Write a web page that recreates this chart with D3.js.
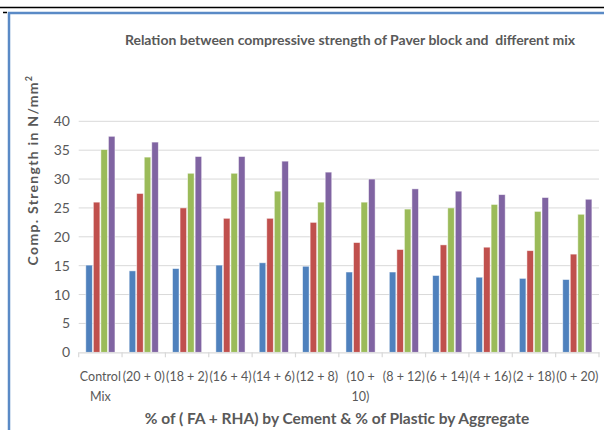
<!DOCTYPE html>
<html>
<head>
<meta charset="utf-8">
<script src="https://cdn.jsdelivr.net/npm/d3@7"></script>
<style>
  html, body { margin: 0; padding: 0; background: #fff; }
  svg { display: block; }
  text { font-family: Lato, "Open Sans", sans-serif; }
</style>
</head>
<body>
<svg id="chart" width="604" height="430"></svg>
<script>
const categories = ["Control Mix", "(20 + 0)", "(18 + 2)", "(16 + 4)", "(14 + 6)", "(12 + 8)", "(10 + 10)", "(8 + 12)", "(6 + 14)", "(4 + 16)", "(2 + 18)", "(0 + 20)"];
const categoryLines = [["Control", "Mix"], ["(20 + 0)"], ["(18 + 2)"], ["(16 + 4)"], ["(14 + 6)"], ["(12 + 8)"], ["(10 +", "10)"], ["(8 + 12)"], ["(6 + 14)"], ["(4 + 16)"], ["(2 + 18)"], ["(0 + 20)"]];
const seriesNames = ["Series 1", "Series 2", "Series 3", "Series 4"];
const series1 = [15.1, 14.1, 14.5, 15.1, 15.5, 14.9, 13.9, 13.9, 13.3, 13.0, 12.8, 12.6];
const series2 = [26.0, 27.5, 25.0, 23.2, 23.2, 22.5, 19.0, 17.8, 18.6, 18.2, 17.6, 17.0];
const series3 = [35.1, 33.8, 31.0, 31.0, 27.9, 26.0, 26.0, 24.8, 25.0, 25.6, 24.4, 23.9];
const series4 = [37.4, 36.4, 33.9, 33.9, 33.1, 31.2, 30.0, 28.3, 27.9, 27.3, 26.8, 26.5];
const yTicks = [0, 5, 10, 15, 20, 25, 30, 35, 40];
const colors = ["#4f81bd", "#c0504d", "#9bbb59", "#8064a2"];

(function () {
const allSeries = [series1, series2, series3, series4];
const svg = d3.select("#chart");

// page decoration: black rule and blue frame
svg.append("line").attr("x1", 0).attr("x2", 604).attr("y1", 7.5).attr("y2", 7.5)
  .attr("stroke", "#000").attr("stroke-width", 1.5);
svg.append("line").attr("x1", 3).attr("x2", 7).attr("y1", 12.5).attr("y2", 12.5)
  .attr("stroke", "#000").attr("stroke-width", 1.5);
svg.append("path").attr("d", "M9,430 V13 H604")
  .attr("fill", "none").attr("stroke", "#5a8ac6").attr("stroke-width", 2.5);

const pl = 78.7, pr = 599, pt = 121.3, pb = 352.3;

const x = d3.scaleBand().domain(categories).range([pl, pr]).paddingInner(0).paddingOuter(0);
const groupPad = 6.6;
const inner = d3.scaleBand().domain(seriesNames).range([groupPad, x.bandwidth() - groupPad]);
const y = d3.scaleLinear().domain([0, 40]).range([pb, pt]);

// gridlines
svg.append("g").selectAll("line").data(yTicks.filter(d => d > 0)).join("line")
  .attr("x1", pl).attr("x2", pr)
  .attr("y1", d => y(d)).attr("y2", d => y(d))
  .attr("stroke", "#d9d9d9").attr("stroke-width", 1);

// y tick labels
svg.append("g").selectAll("text").data(yTicks).join("text")
  .attr("x", 70).attr("y", d => y(d)).attr("dy", "0.36em")
  .attr("text-anchor", "end").attr("fill", "#595959")
  .attr("font-size", 14).text(d => d);

// bars
const groups = svg.append("g").selectAll("g").data(categories).join("g")
  .attr("transform", d => `translate(${x(d)},0)`);
groups.selectAll("rect").data((d, i) => allSeries.map((s, k) => ({ k, v: s[i] }))).join("rect")
  .attr("x", d => inner(seriesNames[d.k]) + 0.5)
  .attr("width", inner.bandwidth() - 1)
  .attr("y", d => y(d.v))
  .attr("height", d => y(0) - y(d.v))
  .attr("fill", d => colors[d.k])
  .attr("stroke", "#ffffff").attr("stroke-opacity", 0.6).attr("stroke-width", 0.8);

// x axis
const xAxis = svg.append("g").attr("transform", `translate(0,${pb})`)
  .call(d3.axisBottom(x).tickSize(0).tickFormat(""));
xAxis.select(".domain").attr("stroke", "#d9d9d9").attr("stroke-width", 1.2);
svg.append("g").selectAll("line").data(d3.range(categories.length + 1)).join("line")
  .attr("x1", i => pl + i * x.bandwidth()).attr("x2", i => pl + i * x.bandwidth())
  .attr("y1", pb).attr("y2", pb + 5)
  .attr("stroke", "#d9d9d9").attr("stroke-width", 1.2);

// x tick labels
const xl = svg.append("g").selectAll("text").data(categories).join("text")
  .attr("text-anchor", "middle").attr("fill", "#595959").attr("font-size", 12.5);
xl.each(function (d, i) {
  const t = d3.select(this);
  categoryLines[i].forEach((line, j) => {
    t.append("tspan").attr("x", x(d) + x.bandwidth() / 2).attr("y", 381 + j * 20).text(line);
  });
});

// title
svg.append("text").attr("x", 350).attr("y", 45).attr("text-anchor", "middle")
  .attr("font-weight", "bold").attr("fill", "#595959").attr("font-size", 14)
  .text("Relation between compressive strength of Paver block and\u00a0 different mix");

// x axis title
svg.append("text").attr("x", 337).attr("y", 424).attr("text-anchor", "middle")
  .attr("font-weight", "bold").attr("fill", "#595959").attr("font-size", 15.5)
  .text("% of ( FA + RHA) by Cement & % of Plastic by Aggregate");

// y axis title
const yt = svg.append("text").attr("transform", "translate(38,170) rotate(-90)")
  .attr("text-anchor", "middle").attr("font-weight", "bold").attr("fill", "#595959")
  .attr("font-size", 14).attr("letter-spacing", 1.3);
yt.append("tspan").text("Comp. Strength in N/mm");
yt.append("tspan").attr("font-size", 9).attr("dy", -6).text("2");
})();
</script>
</body>
</html>
